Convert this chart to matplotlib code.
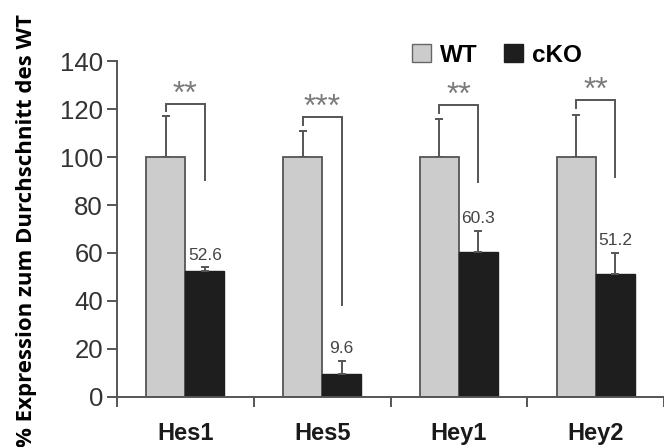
import numpy as np
import matplotlib.pyplot as plt
from matplotlib.patches import Patch

categories = ['Hes1', 'Hes5', 'Hey1', 'Hey2']
wt = [100, 100, 100, 100]
wt_err = [17, 11, 16, 17.5]
cko = [52.6, 9.6, 60.3, 51.2]
cko_err = [1.4, 5.4, 9.0, 8.8]
value_labels = ['52.6', '9.6', '60.3', '51.2']
stars = ['**', '***', '**', '**']
bracket_top = [122.3, 116.6, 121.6, 123.8]
bracket_end = [90.4, 38.3, 89.7, 91.8]

plt.rcParams['font.family'] = ['Liberation Sans', 'DejaVu Sans']

fig = plt.figure(figsize=(6.64, 4.47), dpi=100)
ax = fig.add_axes([117 / 664, 50.3 / 447, 547 / 664, 335.4 / 447])

x = np.arange(len(categories))
w = 0.285
axis_col = '#555555'

ax.bar(x - w / 2, wt, w, color='#cccccc', edgecolor='#555555', linewidth=1.3, zorder=2)
ax.bar(x + w / 2, cko, w, color='#1e1e1e', edgecolor='#1e1e1e', linewidth=1.0, zorder=2)
ax.errorbar(x - w / 2, wt, yerr=[np.zeros(4), wt_err], fmt='none', ecolor=axis_col,
            elinewidth=1.4, capsize=3, capthick=1.4, zorder=1)
ax.errorbar(x + w / 2, cko, yerr=[np.zeros(4), cko_err], fmt='none', ecolor=axis_col,
            elinewidth=1.4, capsize=3, capthick=1.4, zorder=3)

# value labels above cKO bars
for i in range(len(categories)):
    ax.text(x[i] + w / 2, cko[i] + cko_err[i] + 2, value_labels[i], ha='center', va='bottom',
            fontsize=12.5, color='#444444')

# significance brackets
for i in range(len(categories)):
    xl, xr = x[i] - w / 2, x[i] + w / 2
    ax.plot([xl, xl, xr, xr], [bracket_top[i] - 3.2, bracket_top[i], bracket_top[i], bracket_end[i]],
            color=axis_col, lw=1.4, solid_joinstyle='miter', clip_on=False)
    ax.text(x[i], bracket_top[i] - 2.5, stars[i], ha='center', va='bottom',
            fontsize=23, color='#7a7a7a')

ax.set_ylim(0, 140)
ax.set_xlim(-0.5, 3.435)
ax.set_yticks(range(0, 141, 20))
ax.set_xticks([-0.5, 0.5, 1.5, 2.5, 3.5])
ax.set_xticklabels([])
ax.tick_params(axis='y', direction='out', length=7, width=1.4, color=axis_col,
               labelsize=18.5, labelcolor='#333333', pad=3)
ax.tick_params(axis='x', direction='out', length=7, width=1.4, color=axis_col)
for i, c in enumerate(categories):
    ax.text(x[i], -15.5, c, ha='center', va='center', fontsize=17, fontweight='bold',
            color='#1a1a1a')

for s in ['top', 'right']:
    ax.spines[s].set_visible(False)
for s in ['left', 'bottom']:
    ax.spines[s].set_color(axis_col)
    ax.spines[s].set_linewidth(1.4)

fig.text(27 / 664, 0.484, '% Expression zum Durchschnitt des WT', rotation=90,
         ha='center', va='center', fontsize=16, fontweight='bold', family='Open Sans')

handles = [Patch(facecolor='#cccccc', edgecolor='#666666', label='WT'),
           Patch(facecolor='#1e1e1e', edgecolor='#1e1e1e', label='cKO')]
fig.legend(handles=handles, loc='center', bbox_to_anchor=(497 / 664, 1 - 55 / 447), ncol=2,
           frameon=False, prop={'size': 17.5, 'weight': 'bold'}, handlelength=0.76,
           handleheight=0.76, handletextpad=0.38, columnspacing=1.1)

fig.savefig('out.png', dpi=100)
